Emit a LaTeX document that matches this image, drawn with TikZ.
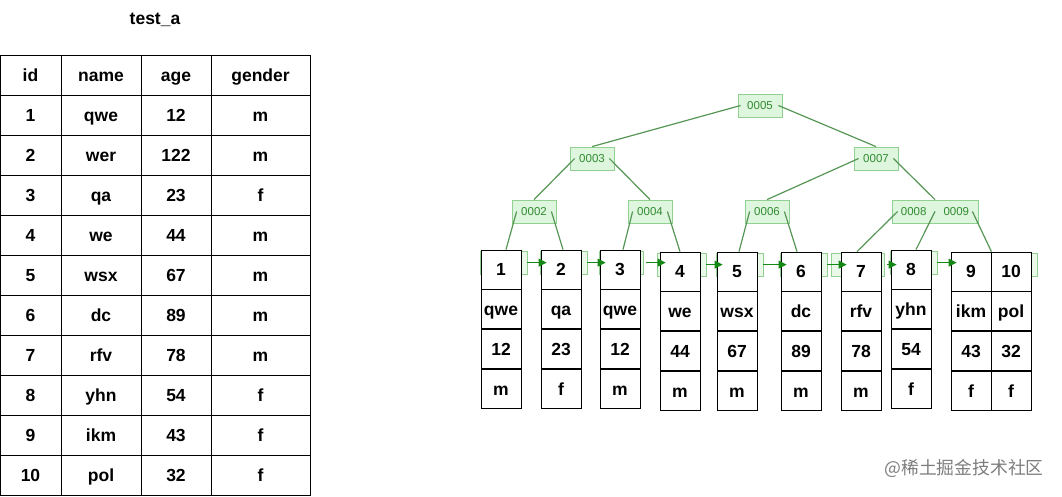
\documentclass[tikz,border=0pt]{standalone}
\usepackage{fontspec}
\setmainfont{Liberation Sans}
\newfontfamily\cjk{Noto Sans CJK SC}
\usepackage{tikz}
\usetikzlibrary{positioning}
\usetikzlibrary{arrows.meta}
\pgfdeclarelayer{background}
\pgfsetlayers{background,main}
\definecolor{keyfill}{RGB}{222,245,222}
\definecolor{keyline}{RGB}{145,208,145}
\definecolor{keytext}{RGB}{50,140,50}
\definecolor{treeline}{RGB}{85,150,85}
\definecolor{nextgreen}{RGB}{20,135,20}
\definecolor{markgray}{RGB}{125,125,125}
\def\thickness{0.8pt}
\def\cellfont{\bfseries\fontsize{17.5}{17.5}\selectfont}
\tikzstyle{tcell}=[rectangle, draw=black, line width=\thickness, minimum height=40pt, inner sep=0pt, text height=13pt, text depth=0.5pt, font=\cellfont]
\tikzstyle{leafcell}=[rectangle, draw=black, fill=white, line width=\thickness, minimum width=40pt, minimum height=39pt, inner sep=0pt, text height=13pt, text depth=0.5pt, font=\cellfont]
\tikzstyle{keybox}=[rectangle, draw=keyline, fill=keyfill, line width=\thickness, minimum width=44pt, minimum height=23pt, inner sep=0pt, text=keytext, font=\fontsize{11.5}{11.5}\selectfont]
\tikzstyle{ptrbox}=[draw=keyline, fill=keyfill!60, line width=\thickness]
\tikzstyle{treeedge}=[draw=treeline, line width=1.2pt]
\tikzset{nextleaf/.style={draw=nextgreen, line width=1.2pt, -{Triangle[length=8pt,width=8pt]}}}

\begin{document}
\begin{tikzpicture}[x=1pt, y=-1pt]
\useasboundingbox (0,0) rectangle (1062,496);
% table test_a
\node [font=\cellfont] (title) at (155,20) {test\_a};
\foreach \id/\nm/\ag/\gd [count=\n] in {id/name/age/gender, 1/qwe/12/m, 2/wer/122/m, 3/qa/23/f, 4/we/44/m, 5/wsx/67/m, 6/dc/89/m, 7/rfv/78/m, 8/yhn/54/f, 9/ikm/43/f, 10/pol/32/f} {
  \node [tcell, minimum width=61pt] (t\n-1) at (30.5,35+40*\n) {\id};
  \node [tcell, minimum width=80pt] (t\n-2) at (101,35+40*\n) {\nm};
  \node [tcell, minimum width=70pt] (t\n-3) at (176,35+40*\n) {\ag};
  \node [tcell, minimum width=99pt] (t\n-4) at (260.5,35+40*\n) {\gd};
}
% leaves
\foreach \i/\x/\y/\a/\b/\c/\d in {1/481/250/1/qwe/12/m, 2/541/250/2/qa/23/f, 3/600/250/3/qwe/12/m, 4/660/252/4/we/44/m, 5/717/252/5/wsx/67/m, 6/781/252/6/dc/89/m, 7/841/252/7/rfv/78/m, 8/891/250/8/yhn/54/f, 9/951/252/9/ikm/43/f, 10/991/252/10/pol/32/f} {
  \node [leafcell] (l\i) at (\x+20,\y+19.5) {\a};
  \node [leafcell, below=0pt of l\i] (l\i-2) {\b};
  \node [leafcell, below=0pt of l\i-2] (l\i-3) {\c};
  \node [leafcell, below=0pt of l\i-3] (l\i-4) {\d};
}
\begin{pgfonlayer}{background}
\foreach \i/\lft/\rgt in {1/0/6, 2/0/6, 3/0/3, 4/-2/6, 5/0/6, 6/0/6, 7/-9/3, 8/0/6, 10/0/6}
  \draw [ptrbox] ([shift={(\lft pt,-2pt)}]l\i.north west) rectangle ([shift={(\rgt pt,-25pt)}]l\i.north east);
\end{pgfonlayer}
\foreach \i/\j in {1/2,2/3,3/4,4/5,5/6,6/7,7/8,8/9}
  \draw [nextleaf] ([shift={(6pt,-13pt)}]l\i.north east) -- ([shift={(6pt,-13pt)}]l\i.north east -| l\j.west);
% inner nodes
\node [keybox] (k5) at (760,105.5) {0005};
\node [keybox] (k3) at (592,158.5) {0003};
\node [keybox] (k7) at (876,158.5) {0007};
\node [keybox] (k2) at (534,211.5) {0002};
\node [keybox] (k4) at (650,211.5) {0004};
\node [keybox] (k6) at (767,211.5) {0006};
\node [keybox, minimum width=86pt] (k89) at (935,211.5) {0008\hspace{17pt}0009};
\draw [treeedge] ([xshift=3pt]k5.west) -- (k3.north);
\draw [treeedge] ([xshift=-4pt]k5.east) -- (k7.north);
\draw [treeedge] ([xshift=5pt]k3.west) -- (k2.north);
\draw [treeedge] ([xshift=-5pt]k3.east) -- (k4.north);
\draw [treeedge] ([xshift=5pt]k7.west) -- (k6.north);
\draw [treeedge] ([xshift=-5pt]k7.east) -- (k89.north);
\draw [treeedge] ([xshift=5pt]k2.west) -- ([xshift=5pt]l1.north);
\draw [treeedge] ([xshift=-5pt]k2.east) -- ([xshift=2pt]l2.north);
\draw [treeedge] ([xshift=5pt]k4.west) -- ([xshift=3pt]l3.north);
\draw [treeedge] ([xshift=-5pt]k4.east) -- (l4.north);
\draw [treeedge] ([xshift=5pt]k6.west) -- ([xshift=2pt]l5.north);
\draw [treeedge] ([xshift=-5pt]k6.east) -- ([xshift=-4pt]l6.north);
\draw [treeedge] ([xshift=6pt]k89.west) -- ([xshift=-4pt]l7.north);
\draw [treeedge] (k89.center) -- ([xshift=5pt]l8.north);
\draw [treeedge] ([xshift=-6pt]k89.east) -- (l9.north east);
% watermark
\node [text=markgray, font=\cjk\fontsize{17.8}{17.8}\selectfont] (mark) at (964,468) {@稀土掘金技术社区};
\end{tikzpicture}
\end{document}
